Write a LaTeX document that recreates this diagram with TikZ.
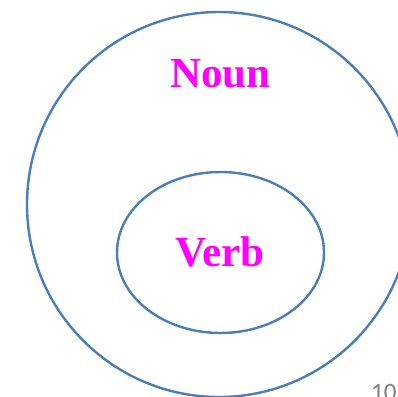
\documentclass[tikz,border=0pt]{standalone}
\usepackage{fontspec}
\setmainfont{Liberation Serif}
\newfontfamily\pagenumfont{Carlito}
\definecolor{ringblue}{RGB}{74,126,187}
\definecolor{wordmag}{RGB}{255,0,255}
\definecolor{numgray}{RGB}{128,128,128}
\begin{document}
\begin{tikzpicture}[x=1pt,y=-1pt,
  ring/.style={draw=ringblue,line width=2.4pt},
  word/.style={text=wordmag,font=\fontsize{43}{43}\selectfont\bfseries,inner sep=0pt}]
\useasboundingbox (0,0) rectangle (398,396);
\draw[ring] (219,204.5) ellipse [x radius=192,y radius=192.5];
\draw[ring] (220.5,252.5) ellipse [x radius=103.5,y radius=80.5];
\node[word,anchor=base] (noun) at (220.5,87) {Noun};
\node[word,anchor=base] (verb) at (220,266) {Verb};
\node[text=numgray,font=\pagenumfont\fontsize{25}{25}\selectfont,anchor=north west,inner sep=0pt] (pagenum) at (371,384) {10};
\end{tikzpicture}
\end{document}
